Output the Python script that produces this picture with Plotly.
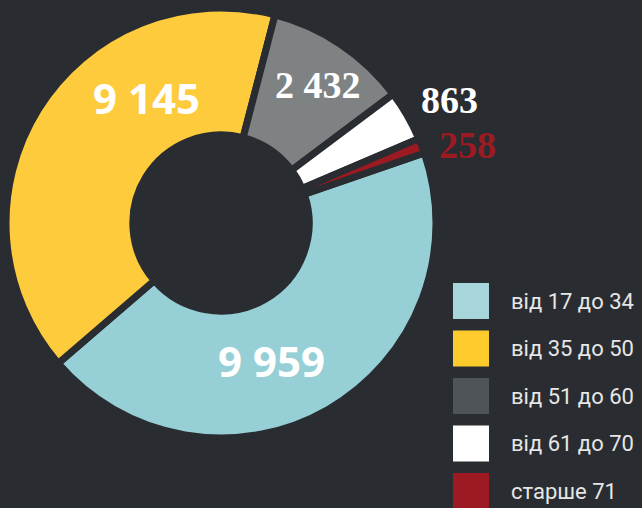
import plotly.graph_objects as go

# ---- data ----
categories = ["від 17 до 34", "від 35 до 50", "від 51 до 60", "від 61 до 70", "старше 71"]
values = [9959, 9145, 2432, 863, 258]

# ---- styles ----
BG = "#292c30"
slice_colors = ["#96cfd5", "#fecb3c", "#7e8283", "#ffffff", "#9c1a22"]
legend_colors = ["#a6d5dc", "#fecb2c", "#4f5458", "#ffffff", "#9c1a22"]
label_colors = ["#ffffff", "#ffffff", "#ffffff", "#ffffff", "#9c1a22"]
label_fonts = ["Noto Sans", "Noto Sans", "Liberation Serif", "Liberation Serif", "Liberation Serif"]
label_sizes = [42, 42, 38, 38, 38]
# label centre positions in pixels (layout only)
label_pos = [(271, 360), (146, 97), (318, 85), (449, 100), (467, 145)]

W, H = 642, 508


def px(x, y):
    return x / W, 1 - y / H


def fmt(v):
    return f"{v:,}".replace(",", " ")


fig = go.Figure()
fig.add_trace(go.Pie(
    values=values,
    labels=categories,
    sort=False,
    direction="clockwise",
    rotation=71,
    hole=0.41,
    marker=dict(colors=slice_colors, line=dict(color=BG, width=7)),
    textinfo="none",
    hoverinfo="label+value",
    showlegend=False,
    domain=dict(x=[6 / W, 436 / W], y=[1 - 438 / H, 1 - 8 / H]),
))

annotations = []
for v, (lx, ly), c, f, s in zip(values, label_pos, label_colors, label_fonts, label_sizes):
    ax, ay = px(lx, ly)
    annotations.append(dict(
        x=ax, y=ay, xref="paper", yref="paper", showarrow=False,
        text=f"<b>{fmt(v)}</b>", font=dict(family=f, size=s, color=c),
        xanchor="center", yanchor="middle",
    ))

# custom legend (large squares)
shapes = []
row0, step, sq = 301, 47.5, 36
for i, (cat, col) in enumerate(zip(categories, legend_colors)):
    cy = row0 + i * step
    x0, y0 = px(453, cy - sq / 2)
    x1, y1 = px(453 + sq, cy + sq / 2)
    shapes.append(dict(type="rect", xref="paper", yref="paper",
                       x0=x0, x1=x1, y0=y1, y1=y0,
                       fillcolor=col, line=dict(width=0)))
    tx, ty = px(509, cy)
    annotations.append(dict(
        x=tx, y=ty, xref="paper", yref="paper", showarrow=False,
        text=cat, font=dict(family="Roboto", size=22, color="#e6e6e6"),
        xanchor="left", yanchor="middle",
    ))

fig.update_layout(
    width=W, height=H,
    margin=dict(l=0, r=0, t=0, b=0),
    paper_bgcolor=BG, plot_bgcolor=BG,
    annotations=annotations,
    shapes=shapes,
    showlegend=False,
)

fig.write_html(
    "out.html",
    config={"displayModeBar": False},
    post_script="document.body.style.margin='0';document.body.style.background='#292c30';",
)
